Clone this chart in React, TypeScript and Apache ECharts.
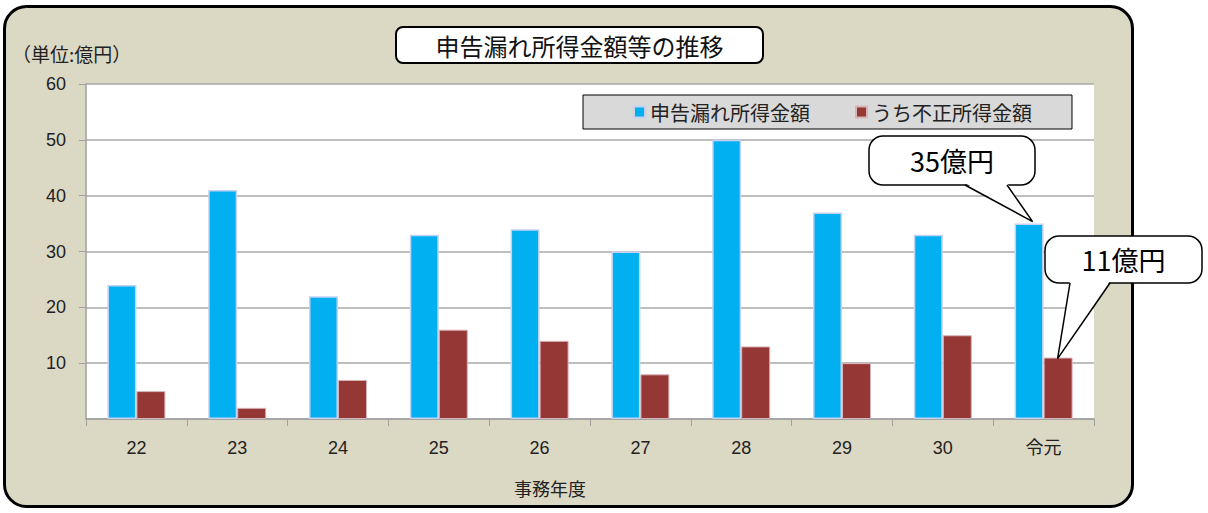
import React, { useEffect, useRef } from "react";
import * as echarts from "echarts";

const categories = ["22", "23", "24", "25", "26", "27", "28", "29", "30", "令元"];
const omissionValues = [24, 41, 22, 33, 34, 30, 50, 37, 33, 35];
const fraudValues = [5, 2, 7, 16, 14, 8, 13, 10, 15, 11];
const seriesNames = ["申告漏れ所得金額", "うち不正所得金額"];
const titleText = "申告漏れ所得金額等の推移";
const unitText = "（単位:億円）";
const xAxisName = "事務年度";
const calloutUnit = "億円";

const JP = '"Noto Sans CJK JP", "Noto Sans", sans-serif';
const NUM = '"Liberation Sans", "Noto Sans CJK JP", sans-serif';

function callout(
  x: number, y: number, w: number, h: number,
  bx1: number, bx2: number, tipX: number, tipY: number,
  text: string
) {
  const bottom = y + h;
  return [
    {
      type: "rect",
      z: 50,
      shape: { x, y, width: w, height: h, r: 14 },
      style: { fill: "#ffffff", stroke: "#000000", lineWidth: 1.5 },
    },
    {
      type: "polygon",
      z: 51,
      shape: { points: [[bx1, bottom - 2], [bx2, bottom - 2], [tipX, tipY]] },
      style: { fill: "#ffffff", stroke: null },
    },
    {
      type: "polyline",
      z: 52,
      shape: { points: [[bx1, bottom], [tipX, tipY], [bx2, bottom]] },
      style: { fill: null, stroke: "#000000", lineWidth: 1.5 },
    },
    {
      type: "text",
      z: 53,
      x: x + w / 2,
      y: y + h / 2,
      style: {
        text,
        fill: "#000000",
        font: `27px ${JP}`,
        align: "center",
        verticalAlign: "middle",
      },
    },
  ];
}

export default function App() {
  const ref = useRef<HTMLDivElement>(null);

  useEffect(() => {
    if (!ref.current) return;
    const chart = echarts.init(ref.current, undefined, { renderer: "svg" });

    const baseGraphic: any[] = [
      {
        type: "rect",
        z: -100,
        shape: { x: 4.5, y: 6.5, width: 1128, height: 500, r: 22 },
        style: { fill: "#DBD8C4", stroke: "#000000", lineWidth: 3 },
        silent: true,
      },
      {
        type: "rect",
        z: 10,
        shape: { x: 396, y: 27, width: 367, height: 36, r: 7 },
        style: { fill: "#ffffff", stroke: "#000000", lineWidth: 2 },
      },
      {
        type: "text",
        z: 11,
        x: 579.5,
        y: 45.5,
        style: {
          text: titleText,
          fill: "#111111",
          font: `24px ${JP}`,
          align: "center",
          verticalAlign: "middle",
        },
      },
      {
        type: "text",
        z: 11,
        x: 12,
        y: 53,
        style: {
          text: unitText,
          fill: "#222222",
          font: `19px ${JP}`,
          align: "left",
          verticalAlign: "middle",
        },
      },
      {
        type: "text",
        z: 11,
        x: 550,
        y: 488,
        style: {
          text: xAxisName,
          fill: "#222222",
          font: `18px ${JP}`,
          align: "center",
          verticalAlign: "middle",
        },
      },
    ];

    const option: any = {
      animation: false,
      backgroundColor: "#ffffff",
      grid: {
        left: 86,
        top: 84,
        width: 1008,
        height: 335,
        show: true,
        backgroundColor: "#ffffff",
        borderWidth: 0,
        containLabel: false,
      },
      legend: {
        left: 583,
        top: 95,
        orient: "horizontal",
        icon: "rect",
        itemWidth: 11,
        itemHeight: 11,
        itemGap: 45,
        padding: [7, 40, 7, 50],
        backgroundColor: "#D9D9D9",
        borderColor: "#000000",
        borderWidth: 1,
        textStyle: { fontSize: 20, color: "#222222", fontFamily: JP },
        data: seriesNames,
      },
      xAxis: {
        type: "category",
        data: categories,
        axisLine: { show: true, lineStyle: { color: "#a0a0a0", width: 1.5 } },
        axisTick: { show: true, alignWithLabel: false, interval: 0, length: 7, lineStyle: { color: "#a0a0a0" } },
        axisLabel: { interval: 0, margin: 20, fontSize: 18, color: "#222222", fontFamily: NUM },
        splitLine: { show: false },
      },
      yAxis: {
        type: "value",
        min: 0,
        max: 60,
        interval: 10,
        axisLine: { show: true, lineStyle: { color: "#a0a0a0", width: 1.5 } },
        axisTick: { show: true, length: 7, lineStyle: { color: "#a0a0a0" } },
        axisLabel: { margin: 20, fontSize: 18, color: "#222222", fontFamily: NUM, showMinLabel: false },
        splitLine: { show: true, lineStyle: { color: "#a8a8a8", width: 1.5 } },
      },
      series: [
        {
          name: seriesNames[0],
          type: "bar",
          data: omissionValues,
          barWidth: 29,
          barGap: "0%",
          itemStyle: { color: "#00B0F0", borderColor: "#c5d2f2", borderWidth: 1.5 },
        },
        {
          name: seriesNames[1],
          type: "bar",
          data: fraudValues,
          barWidth: 29,
          barGap: "0%",
          itemStyle: { color: "#953735", borderColor: "#d8b4b8", borderWidth: 1 },
        },
      ],
      graphic: { elements: baseGraphic },
    };

    chart.setOption(option);

    const last = categories.length - 1;
    const c1 = chart.convertToPixel({ gridIndex: 0 }, [last, omissionValues[last]]) as number[];
    const c2 = chart.convertToPixel({ gridIndex: 0 }, [last, fraudValues[last]]) as number[];
    const blueTip = [c1[0] - 11, c1[1] - 2];
    const redTip = [c2[0] + 14, c2[1] + 1];

    const calloutEls = [
      ...callout(869, 136, 166, 49, 965, 1007, blueTip[0], blueTip[1], `${omissionValues[last]}${calloutUnit}`),
      ...callout(1045, 236, 157, 47, 1070, 1110, redTip[0], redTip[1], `${fraudValues[last]}${calloutUnit}`),
    ];

    chart.setOption({ graphic: { elements: [...baseGraphic, ...calloutEls] } }, { replaceMerge: ["graphic"] });

    return () => chart.dispose();
  }, []);

  return (
    <div
      ref={ref}
      style={{ position: "fixed", left: 0, top: 0, width: 1208, height: 513 }}
    />
  );
}
